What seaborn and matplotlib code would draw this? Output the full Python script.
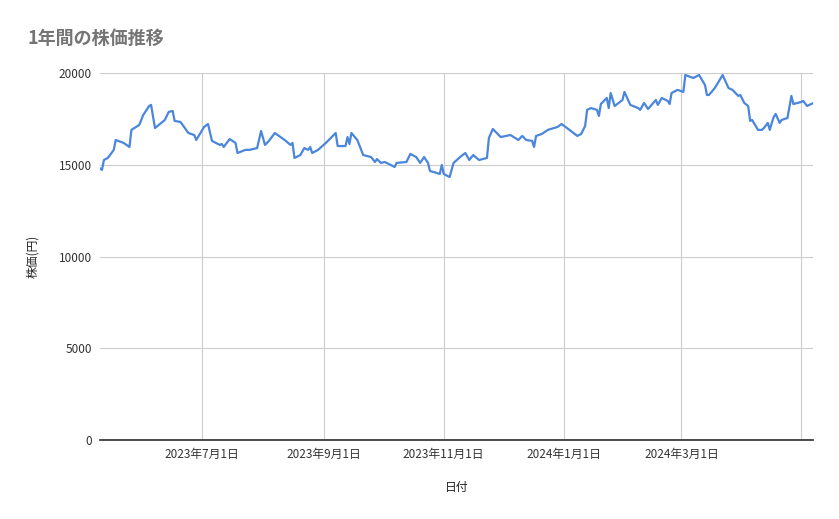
import numpy as np
import pandas as pd
import seaborn as sns
import matplotlib.pyplot as plt
import matplotlib.dates as mdates

sns.set_theme(style="whitegrid")
plt.rcParams['font.family'] = ['Noto Sans CJK JP', 'DejaVu Sans']

# days from 2023-07-01, and price (yen)
day_offsets = [-53, -51, -50, -48, -45, -44, -40, -37, -36, -32, -30, -27, -26, -24, -19, -17, -15, -14,
               -11, -7, -4, -3, 1, 3, 5, 9, 10, 11, 14, 17, 18, 22, 24, 28, 30, 32, 34, 37, 42, 45,
               46, 47, 50, 52, 54, 55, 56, 59, 63, 66, 68, 69, 73, 74, 75, 76, 79, 82, 86, 88,
               89, 91, 93, 96, 98, 99, 104, 106, 109, 111, 113, 115, 116, 121, 122, 123, 124, 126, 128, 132,
               134, 136, 138, 141, 145, 146, 148, 152, 157, 161, 163, 165, 168, 169, 170, 173, 176, 181, 183, 187,
               191, 193, 195, 196, 198, 201, 202, 203, 206, 207, 208, 210, 214, 215, 218, 222, 223, 225, 227, 231,
               232, 234, 237, 238, 239, 242, 245, 246, 250, 251, 253, 256, 257, 258, 261, 265, 268, 270, 273, 274,
               276, 278, 279, 280, 283, 285, 286, 288, 289, 290, 291, 292, 294, 295, 298, 300, 301, 305, 306, 308,
               310, 313]
prices = [14880, 14720, 15260, 15370, 15810, 16350, 16190, 15970, 16900, 17170, 17710, 18200, 18260, 17000, 17440, 17880, 17930, 17390,
          17330, 16730, 16620, 16350, 17060, 17220, 16300, 16080, 16130, 15970, 16400, 16190, 15640, 15810, 15810, 15910, 16840, 16080, 16300, 16730, 16350, 16080,
          16190, 15370, 15530, 15910, 15810, 15970, 15640, 15810, 16190, 16510, 16730, 16020, 16020, 16510, 16130, 16730, 16350, 15530, 15420, 15150,
          15310, 15100, 15150, 14990, 14880, 15100, 15150, 15590, 15420, 15100, 15420, 15100, 14660, 14500, 14990, 14500, 14440, 14330, 15100, 15480,
          15640, 15260, 15530, 15260, 15370, 16460, 16950, 16510, 16620, 16350, 16570, 16350, 16300, 15970, 16570, 16680, 16900, 17060, 17220, 16900,
          16570, 16680, 17120, 17990, 18090, 17990, 17660, 18310, 18640, 18090, 18910, 18200, 18530, 18970, 18260, 18090, 17990, 18370, 18040, 18530,
          18260, 18640, 18480, 18310, 18910, 19080, 18970, 19890, 19730, 19780, 19890, 19350, 18800, 18800, 19180, 19890, 19180, 19080, 18750, 18800,
          18370, 18200, 17390, 17440, 16900, 16900, 17000, 17280, 16900, 17280, 17600, 17770, 17280, 17440, 17550, 18750, 18310, 18420, 18480, 18200,
          18310, 18420]

dates = pd.Timestamp('2023-07-01') + pd.to_timedelta(day_offsets, unit='D')
df = pd.DataFrame({'日付': dates, '株価(円)': prices})

fig = plt.figure(figsize=(8.39, 5.19), dpi=100)
ax = fig.add_axes([100 / 839, 79 / 519, 713 / 839, 367 / 519])
sns.lineplot(data=df, x='日付', y='株価(円)', ax=ax, color='#4a86db', linewidth=1.6)

ax.set_ylim(0, 20000)
ax.set_yticks([0, 5000, 10000, 15000, 20000])
ax.set_xlim(pd.Timestamp('2023-05-10'), pd.Timestamp('2024-05-07'))
ticks = pd.to_datetime(['2023-07-01', '2023-09-01', '2023-11-01', '2024-01-01', '2024-03-01', '2024-05-01'])
ax.set_xticks(ticks)
ax.set_xticklabels(['2023年7月1日', '2023年9月1日', '2023年11月1日', '2024年1月1日', '2024年3月1日', ''])
ax.grid(True, color='#cccccc', linewidth=0.8)
for s in ['top', 'right', 'left']:
    ax.spines[s].set_visible(False)
ax.spines['bottom'].set_color('#333333')
ax.tick_params(axis='both', labelsize=8.5, colors='#333333', length=0, pad=6)
ax.set_xlabel('日付', fontsize=8.5, color='#222222', labelpad=14)
ax.set_ylabel('株価(円)', fontsize=8.5, color='#222222', labelpad=14)
fig.text(27 / 839, 1 - 38 / 519, '1年間の株価推移', fontsize=13, color='#757575',
         va='center', fontweight='bold')

fig.savefig('out.png', dpi=100, facecolor='white')
